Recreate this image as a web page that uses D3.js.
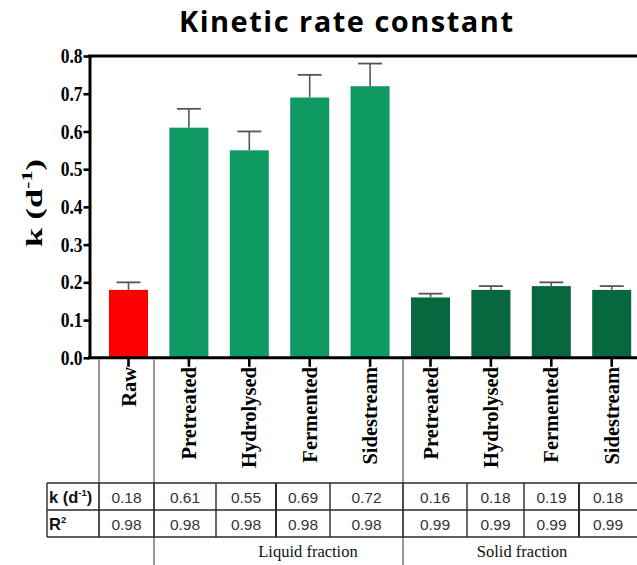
<!DOCTYPE html>
<html>
<head>
<meta charset="utf-8">
<script src="https://cdn.jsdelivr.net/npm/d3@7"></script>
<style>
  html, body { margin: 0; padding: 0; background: #fff; }
  svg { display: block; }
</style>
</head>
<body>
<svg id="chart" width="637" height="565"></svg>
<script>
// ---- data ----
const categories = ["Raw", "Pretreated", "Hydrolysed", "Fermented", "Sidestream",
                    "Pretreated", "Hydrolysed", "Fermented", "Sidestream"];
const groups = ["raw", "liquid", "liquid", "liquid", "liquid", "solid", "solid", "solid", "solid"];
const kValues = [0.18, 0.61, 0.55, 0.69, 0.72, 0.16, 0.18, 0.19, 0.18];
const kErrors = [0.02, 0.05, 0.05, 0.06, 0.06, 0.01, 0.01, 0.01, 0.01];
const r2Values = [0.98, 0.98, 0.98, 0.98, 0.98, 0.99, 0.99, 0.99, 0.99];
const yTicks = [0, 0.1, 0.2, 0.3, 0.4, 0.5, 0.6, 0.7, 0.8];
const groupLabels = ["Liquid fraction", "Solid fraction"];

// ---- layout ----
const W = 637, H = 565;
const axisX = 89.5, baseY = 357.8, topY = 56;
const serif = "'Liberation Serif', 'Times New Roman', serif";
const sans = "'Liberation Sans', Arial, sans-serif";
const colours = { raw: "#ff0000", liquid: "#0f9a64", solid: "#07683f" };
// table column edges (header column first)
const colEdges = [47, 99, 154, 216, 276, 330, 403, 467, 524, 579, 637];
const rowEdges = [483, 510, 537];

const svg = d3.select("#chart");

const x = d3.scaleBand()
  .domain(d3.range(categories.length))
  .range([98.3, 641.9])
  .paddingInner(0.354)
  .paddingOuter(0.177);

const y = d3.scaleLinear().domain([0, 0.8]).range([baseY, topY]);

// title: letter spacing widens the line to 334px
const titleText = "Kinetic rate constant";
const title = svg.append("text")
  .attr("x", 346).attr("y", 32)
  .attr("text-anchor", "middle")
  .attr("font-family", "'Open Sans', sans-serif")
  .attr("font-weight", 700)
  .attr("font-size", 29)
  .attr("fill", "#000")
  .text(titleText);
const tw = title.node().getComputedTextLength();
const spacing = Math.max(0, (334 - tw) / (titleText.length - 1));
title.attr("letter-spacing", spacing).attr("x", 346 + spacing / 2);

// bars
svg.append("g").selectAll("rect")
  .data(kValues)
  .join("rect")
  .attr("x", (d, i) => x(i))
  .attr("width", x.bandwidth())
  .attr("y", d => y(d))
  .attr("height", d => y(0) - y(d))
  .attr("fill", (d, i) => colours[groups[i]]);

// upper error bars
const eb = svg.append("g").attr("stroke", "#555");
eb.selectAll("line.stem")
  .data(kValues)
  .join("line")
  .attr("class", "stem")
  .attr("x1", (d, i) => x(i) + x.bandwidth() / 2)
  .attr("x2", (d, i) => x(i) + x.bandwidth() / 2)
  .attr("y1", d => y(d))
  .attr("y2", (d, i) => y(d + kErrors[i]))
  .attr("stroke-width", 1.6);
eb.selectAll("line.cap")
  .data(kValues)
  .join("line")
  .attr("class", "cap")
  .attr("x1", (d, i) => x(i) + x.bandwidth() / 2 - 12)
  .attr("x2", (d, i) => x(i) + x.bandwidth() / 2 + 12)
  .attr("y1", (d, i) => y(d + kErrors[i]))
  .attr("y2", (d, i) => y(d + kErrors[i]))
  .attr("stroke-width", 1.8);

// y axis
const yAxis = svg.append("g")
  .attr("transform", `translate(${axisX},0)`)
  .call(d3.axisLeft(y).tickValues(yTicks).tickFormat(d3.format(".1f"))
    .tickSize(6).tickSizeOuter(0).tickPadding(1));
yAxis.select(".domain").attr("stroke", "#000").attr("stroke-width", 3);
yAxis.selectAll(".tick line").attr("stroke", "#000").attr("stroke-width", 2.6);
yAxis.selectAll(".tick text")
  .attr("font-family", serif)
  .attr("font-weight", 700)
  .attr("font-size", 17.5)
  .attr("fill", "#000")
  .attr("transform", "scale(1,1.18)");

// frame top line and x baseline
svg.append("line")
  .attr("x1", axisX - 1.5).attr("x2", W)
  .attr("y1", topY).attr("y2", topY)
  .attr("stroke", "#000").attr("stroke-width", 3);
svg.append("line")
  .attr("x1", axisX - 1.5).attr("x2", W)
  .attr("y1", baseY).attr("y2", baseY)
  .attr("stroke", "#000").attr("stroke-width", 3);

// x ticks
const xAxis = svg.append("g")
  .attr("transform", `translate(0,${baseY})`)
  .call(d3.axisBottom(x).tickSize(9).tickSizeOuter(0).tickFormat(""));
xAxis.select(".domain").remove();
xAxis.selectAll(".tick line").attr("stroke", "#000").attr("stroke-width", 2.6);

// category labels, rotated
svg.append("g").selectAll("text")
  .data(categories)
  .join("text")
  .attr("transform", (d, i) => `translate(${x(i) + x.bandwidth() / 2 + 7},367) rotate(-90)`)
  .attr("text-anchor", "end")
  .attr("font-family", serif)
  .attr("font-weight", 700)
  .attr("font-size", 20.5)
  .attr("fill", "#000")
  .text(d => d);

// y axis title
const yTitle = svg.append("text")
  .attr("text-anchor", "middle")
  .attr("font-family", serif)
  .attr("font-weight", 700)
  .attr("font-size", 23)
  .attr("fill", "#000");
yTitle.append("tspan").text("k (d");
yTitle.append("tspan").attr("font-size", 15).attr("dy", -10).text("-1");
yTitle.append("tspan").attr("dy", 10).text(")");
const ytw = yTitle.node().getComputedTextLength();
yTitle.attr("transform", `translate(42,203) rotate(-90) scale(${88 / ytw},1)`);

// divider lines between the sample groups
const dividers = svg.append("g").attr("stroke", "#555").attr("stroke-width", 1.2);
dividers.append("line").attr("x1", colEdges[1]).attr("x2", colEdges[1])
  .attr("y1", baseY + 1.5).attr("y2", rowEdges[2]);
dividers.append("line").attr("x1", colEdges[2]).attr("x2", colEdges[2])
  .attr("y1", baseY + 1.5).attr("y2", H);
dividers.append("line").attr("x1", colEdges[6]).attr("x2", colEdges[6])
  .attr("y1", baseY + 1.5).attr("y2", H);

// table
const table = svg.append("g");
const tl = table.append("g").attr("stroke", "#2a2a2a");
rowEdges.forEach(ry => {
  tl.append("line").attr("x1", colEdges[0]).attr("x2", W)
    .attr("y1", ry).attr("y2", ry).attr("stroke-width", 1.4);
});
colEdges.slice(0, -1).forEach((cx, i) => {
  tl.append("line").attr("x1", cx).attr("x2", cx)
    .attr("y1", rowEdges[0]).attr("y2", rowEdges[2])
    .attr("stroke-width", (i === 4 || i === 9) ? 2 : 1.4);
});

const rowMid = [(rowEdges[0] + rowEdges[1]) / 2, (rowEdges[1] + rowEdges[2]) / 2];

const kHead = table.append("text")
  .attr("x", 49).attr("y", rowMid[0] + 6)
  .attr("font-family", sans).attr("font-weight", 700).attr("font-size", 16.5).attr("fill", "#111");
kHead.append("tspan").text("k (d");
kHead.append("tspan").attr("font-size", 9.5).attr("dy", -6.5).text("-1");
kHead.append("tspan").attr("dy", 6.5).text(")");

const rHead = table.append("text")
  .attr("x", 49).attr("y", rowMid[1] + 6)
  .attr("font-family", sans).attr("font-weight", 700).attr("font-size", 16.5).attr("fill", "#111");
rHead.append("tspan").text("R");
rHead.append("tspan").attr("font-size", 9.5).attr("dy", -6.5).text("2");

const colMid = i => (colEdges[i + 1] + colEdges[i + 2]) / 2;
table.append("g").selectAll("text")
  .data(kValues)
  .join("text")
  .attr("x", (d, i) => colMid(i))
  .attr("y", rowMid[0] + 6)
  .attr("text-anchor", "middle")
  .attr("font-family", sans).attr("font-size", 15.5).attr("fill", "#333")
  .text(d => d3.format(".2f")(d));
table.append("g").selectAll("text")
  .data(r2Values)
  .join("text")
  .attr("x", (d, i) => colMid(i))
  .attr("y", rowMid[1] + 6)
  .attr("text-anchor", "middle")
  .attr("font-family", sans).attr("font-size", 15.5).attr("fill", "#333")
  .text(d => d3.format(".2f")(d));

// group labels
const groupCentres = [308, 522];
svg.append("g").selectAll("text")
  .data(groupLabels)
  .join("text")
  .attr("x", (d, i) => groupCentres[i])
  .attr("y", 557)
  .attr("text-anchor", "middle")
  .attr("font-family", serif).attr("font-size", 16.5).attr("fill", "#111")
  .text(d => d);
</script>
</body>
</html>
